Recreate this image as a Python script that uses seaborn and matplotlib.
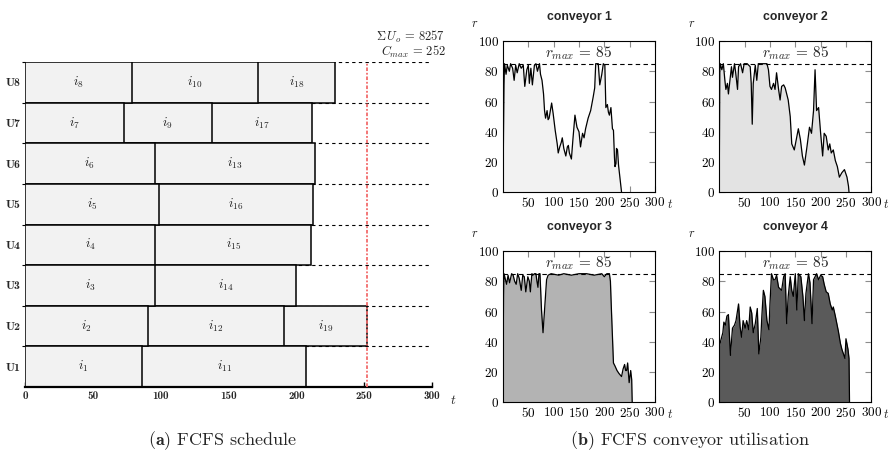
import numpy as np
import pandas as pd
import matplotlib
matplotlib.use("Agg")
import matplotlib.pyplot as plt
import seaborn as sns

# ---------------- data ----------------
units = ["U8", "U7", "U6", "U5", "U4", "U3", "U2", "U1"]
job_ids = [[8, 10, 18], [7, 9, 17], [6, 13], [5, 16], [4, 15], [3, 14], [2, 12, 19], [1, 11]]
job_ends = [[79, 171.5, 228.5], [73, 137.5, 211.5], [95.5, 214], [98.5, 212],
            [96, 211], [96, 200], [90.5, 191, 252], [86.5, 207]]
sum_uo = 8257
c_max = 252
r_max = 85

c1_t = [0, 1, 2, 3, 6, 8.5, 12.5, 15, 19, 22, 25, 28, 32, 36, 40, 43, 47, 50, 52, 55, 58, 62, 65, 68,
        72, 74, 77, 80, 82, 84, 87, 89, 91, 94, 96, 99, 103, 107, 109, 112, 115, 117, 120, 124, 127,
        129, 131, 135, 138, 142, 146, 150, 153, 157, 160, 163, 168, 173, 178, 181, 183, 188, 191, 195,
        198, 201, 203, 206, 208, 210, 213, 216, 218, 220, 221, 223, 224, 226, 228, 234]
c1_r = [0, 40, 71, 85, 78, 84, 80, 85, 82, 74, 84, 79, 85, 82, 84, 70, 81, 84, 72, 82, 71, 84, 85, 80,
        85, 78, 74, 65, 54, 49, 54, 48, 49, 55, 59, 52, 41, 32, 26, 30, 33, 36, 29, 24, 30,
        31, 26, 22, 35, 51, 43, 40, 30, 39, 36, 42, 49, 54, 63, 69, 85, 85, 71, 78,
        85, 84, 56, 58, 53, 51, 56, 42, 41, 23, 17, 19, 29, 28, 18, 0]

c2_t = [0, 1, 2, 5, 8, 11, 13, 16, 18, 21, 24, 26, 30, 32, 36, 38, 42, 46, 49, 55, 61, 63, 65, 67, 71,
        74, 77, 94, 97, 100, 103, 107, 110, 113, 117, 120, 123, 127, 130, 133, 136, 140, 143, 148, 152,
        156, 160, 164, 168, 173, 178, 182, 186, 189, 192, 196, 200, 204, 207, 211, 215, 218, 221, 225,
        229, 233, 237, 242, 247, 252, 255, 256]
c2_r = [15, 80, 85, 81, 85, 74, 68, 72, 65, 74, 83, 76, 85, 80, 68, 83, 85, 79, 85, 85, 83, 72, 45, 72, 84,
        74, 85, 85, 81, 70, 68, 72, 68, 79, 68, 61, 70, 71, 69, 65, 61, 50, 32, 28, 35,
        42, 35, 24, 18, 30, 43, 39, 54, 81, 54, 56, 39, 24, 39, 37, 28, 32, 26, 28,
        21, 17, 10, 13, 15, 10, 4, 0]

c3_t = [0, 1, 2, 7, 10, 13, 17, 20, 23, 26, 29, 32, 36, 39, 42, 45, 49, 52, 54, 57, 59, 62, 65, 67, 69,
        71, 73, 76, 79, 82, 86, 89, 95, 110, 120, 135, 150, 165, 180, 195, 200, 205, 210, 212, 214,
        218, 221, 225, 229, 234, 237, 240, 242, 244, 246, 249, 252, 254, 255]
c3_r = [15, 70, 85, 78, 84, 79, 85, 84, 80, 78, 85, 82, 74, 84, 83, 73, 83, 80, 73, 85, 84, 85, 85, 80, 76,
        85, 85, 61, 46, 61, 81, 84, 85, 84, 85, 84, 85, 85, 84, 85, 83, 85, 85, 80, 61,
        26, 24, 21, 19, 17, 22, 25, 21, 21, 26, 13, 21, 15, 0]

c4_t = [0, 3, 7, 9, 12, 15, 18, 22, 26, 30, 33, 38, 41, 44, 47, 51, 54, 58, 61, 64, 67, 71, 75, 78, 82,
        84, 87, 90, 94, 98, 100, 103, 107, 110, 113, 117, 120, 123, 127, 130, 133, 136, 140, 143, 146,
        150, 153, 156, 161, 165, 168, 171, 176, 179, 183, 186, 189, 192, 196, 200, 204, 207, 211, 215,
        219, 223, 225, 229, 232, 235, 239, 242, 245, 248, 250, 254, 256, 257]
c4_r = [37, 41, 46, 53, 51, 57, 58, 31, 49, 51, 54, 65, 50, 43, 54, 49, 54, 48, 63, 59, 46, 52, 62, 32, 43,
        57, 74, 70, 54, 48, 65, 85, 81, 81, 84, 76, 75, 74, 83, 85, 52, 70, 83, 74, 70,
        85, 61, 85, 83, 70, 54, 72, 85, 79, 52, 81, 83, 85, 81, 84, 83, 78, 73, 72,
        65, 61, 63, 57, 52, 47, 39, 35, 32, 29, 42, 35, 29, 0]

conveyors = [(c1_t, c1_r), (c2_t, c2_r), (c3_t, c3_r), (c4_t, c4_r)]
fills = ["#f2f2f2", "#e3e3e3", "#b3b3b3", "#5a5a5a"]

# ---------------- style ----------------
sns.set_style("ticks")
plt.rcParams.update({
    "font.family": "serif",
    "font.serif": ["cmr10"],
    "mathtext.fontset": "cm",
    "axes.unicode_minus": False,
    "axes.formatter.use_mathtext": True,
})

W, H = 894, 461
fig = plt.figure(figsize=(W / 100, H / 100), dpi=100)

# ---------------- (a) Gantt ----------------
ax = fig.add_axes([25 / W, 1 - 387 / H, 407 / W, 325 / H])
n_layers = max(len(e) for e in job_ends)
for layer in range(n_layers - 1, -1, -1):
    rows = [(u, e[layer]) for u, e in zip(units, job_ends) if len(e) > layer]
    df = pd.DataFrame(rows, columns=["unit", "end"])
    sns.barplot(data=df, x="end", y="unit", order=units, orient="h", color="#f2f2f2",
                saturation=1, edgecolor="black", linewidth=1.1, width=1.0,
                errorbar=None, ax=ax)
ax.set_xlim(0, 300)
ax.set_ylim(len(units) - 0.5, -0.5)
ax.set_xlabel("")
ax.set_ylabel("")

for b in np.arange(-0.5, len(units) - 1, 1.0):
    ax.hlines(b, 0, 300, colors="black", linestyles=(0, (3, 3)), lw=0.8, zorder=0.5)

for i, (ids, ends) in enumerate(zip(job_ids, job_ends)):
    starts = [0] + ends[:-1]
    for jid, s, e in zip(ids, starts, ends):
        ax.text((s + e) / 2, i, f"$i_{{{jid}}}$", ha="center", va="center",
                fontsize=9.5, color="#222222", zorder=5)

ax.axvline(c_max, color="#f26b6b", lw=1.3, ls=(0, (2, 1, 1, 1)), zorder=4)

ax.text(1.033, 1.076, rf"$\Sigma\, U_o\,=\,{sum_uo}$", transform=ax.transAxes,
        ha="right", va="center", fontsize=9)
ax.text(1.033, 1.030, rf"$C_{{max}}\,=\,{c_max}$", transform=ax.transAxes,
        ha="right", va="center", fontsize=9)

for s in ["left", "top", "right"]:
    ax.spines[s].set_visible(False)
ax.spines["bottom"].set_linewidth(1.6)
ax.spines["bottom"].set_color("black")
ax.set_xticks(np.arange(0, 301, 50))
ax.set_xticklabels([str(v) for v in range(0, 301, 50)], fontfamily="cmb10", fontsize=8)
ax.tick_params(axis="x", direction="in", length=3.5, width=1.0, pad=3, color="black")
ax.set_yticks(range(len(units)))
ax.set_yticklabels(units, fontfamily="cmb10", fontsize=8.5)
ax.tick_params(axis="y", which="major", length=0, pad=3)
ax.set_yticks(np.arange(-0.5, len(units) - 1, 1.0), minor=True)
ax.tick_params(axis="y", which="minor", length=2.5, width=0.8, direction="out", color="black")
ax.text(1.052, -0.04, "$t$", transform=ax.transAxes, ha="center", va="center", fontsize=9.5)

# ---------------- (b) conveyors ----------------
lefts = [503 / W, 719.3 / W]
bottoms = [1 - 192.3 / H, 1 - 402.3 / H]
aw, ah = 152 / W, 151.3 / H
for k, ((t, r), fc) in enumerate(zip(conveyors, fills)):
    cx = fig.add_axes([lefts[k % 2], bottoms[k // 2], aw, ah])
    cx.set_axisbelow(True)
    cx.fill_between(t, r, 0, color=fc, lw=0, zorder=1)
    sns.lineplot(x=t, y=r, color="black", linewidth=0.9, estimator=None, sort=False,
                 ax=cx, zorder=2)
    cx.axhline(r_max, color="black", lw=0.8, ls=(0, (4, 3)), zorder=3)
    cx.text(150, r_max + 0.8, rf"$r_{{max}}\,=\,{r_max}$", ha="center", va="bottom",
            fontsize=11, zorder=4)
    cx.set_xlim(0, 300)
    cx.set_ylim(0, 100)
    cx.set_xticks(np.arange(50, 301, 50))
    cx.set_yticks(np.arange(0, 101, 20))
    cx.tick_params(direction="in", top=True, right=True, length=4, width=0.8,
                   color="0.55", labelcolor="black", labelsize=9.5, pad=3)
    for s in cx.spines.values():
        s.set_color("black")
        s.set_linewidth(0.8)
        s.set_zorder(5)
    cx.set_xlabel("")
    cx.set_ylabel("")
    cx.set_title(f"conveyor {k + 1}", fontfamily="Liberation Sans", fontweight="bold",
                 fontsize=8.8, pad=15)
    cx.text(-0.184, 1.11, "$r$", transform=cx.transAxes, ha="center", va="center", fontsize=9)
    cx.text(1.10, -0.08, "$t$", transform=cx.transAxes, ha="center", va="center", fontsize=9)

# ---------------- captions ----------------
fig.text(222.5 / W, 1 - 441 / H, r"$\mathbf{(a)}$ FCFS schedule", ha="center", va="center",
         fontsize=13)
fig.text(689.5 / W, 1 - 441 / H, r"$\mathbf{(b)}$ FCFS conveyor utilisation", ha="center",
         va="center", fontsize=13)

fig.savefig("out.png", dpi=100)
